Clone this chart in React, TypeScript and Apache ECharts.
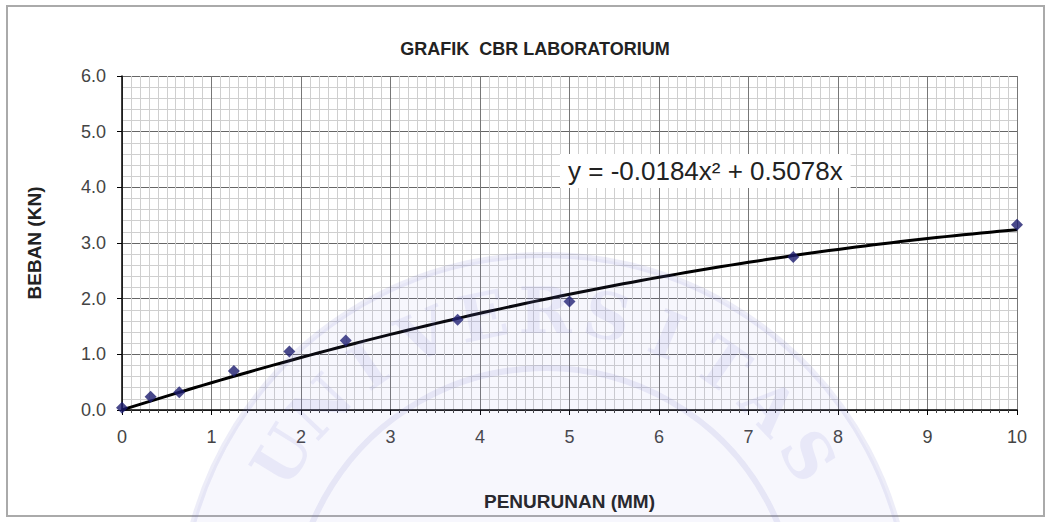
import React, { useEffect, useRef } from "react";
import * as echarts from "echarts";

const penetration = [0, 0.32, 0.64, 1.25, 1.87, 2.5, 3.75, 5, 7.5, 10];
const load = [0.04, 0.24, 0.32, 0.7, 1.05, 1.25, 1.62, 1.95, 2.75, 3.33];
const trendA = -0.0184;
const trendB = 0.5078;
const trendSteps = 100;
const yTicks = [0, 1, 2, 3, 4, 5, 6];
const watermarkLetters = ["U", "N", "I", "V", "E", "R", "S", "I", "T", "A", "S"];

const FONT = "'Liberation Sans', Arial, sans-serif";

export default function App() {
  const ref = useRef<HTMLDivElement>(null);
  useEffect(() => {
    if (!ref.current) return;
    const chart = echarts.init(ref.current, null, { renderer: "svg" });
    const trend: number[][] = [];
    for (let i = 0; i <= trendSteps; i++) {
      const x = (10 * i) / trendSteps;
      trend.push([x, trendA * x * x + trendB * x]);
    }
    const cx = 545, cy = 620, rr = 310;
    const letters = watermarkLetters.map((ch, i) => {
      const deg = -58 + i * 11.6;
      const rad = (deg * Math.PI) / 180;
      return {
        type: "text",
        x: cx + rr * Math.sin(rad),
        y: cy - rr * Math.cos(rad),
        rotation: -rad,
        silent: true,
        z: 100,
        style: {
          text: ch,
          fontSize: 64,
          fontFamily: "'DejaVu Serif', serif",
          fontWeight: "bold",
          fill: "rgba(120,120,205,0.11)",
          align: "center",
          verticalAlign: "middle",
        },
      };
    });
    chart.setOption({
      animation: false,
      backgroundColor: "#ffffff",
      title: {
        text: "GRAFIK  CBR LABORATORIUM",
        left: 530,
        textAlign: "center",
        top: 35,
        textStyle: { fontFamily: FONT, fontSize: 18, fontWeight: "bold", color: "#222" },
      },
      grid: { left: 122, right: 33, top: 76, bottom: 112, containLabel: false },
      xAxis: {
        type: "value",
        min: 0,
        max: 10,
        interval: 1,
        name: "PENURUNAN (MM)",
        nameLocation: "middle",
        nameGap: 82,
        nameTextStyle: { fontFamily: FONT, fontSize: 19, fontWeight: "bold", color: "#222" },
        axisLine: { show: true, onZero: false, lineStyle: { color: "#000", width: 1.5 } },
        axisTick: { show: true, length: 5, lineStyle: { color: "#000" } },
        minorTick: { show: true, splitNumber: 10, length: 3, lineStyle: { color: "#444" } },
        axisLabel: { margin: 18, fontFamily: FONT, fontSize: 18, color: "#444" },
        splitLine: { show: true, lineStyle: { color: "#777", width: 1 } },
        minorSplitLine: { show: true, lineStyle: { color: "#cfcfcf", width: 1 } },
      },
      yAxis: {
        type: "value",
        min: 0,
        max: 6,
        interval: 1,
        name: "BEBAN (KN)",
        nameLocation: "middle",
        nameGap: 78,
        nameRotate: 90,
        nameTextStyle: { fontFamily: FONT, fontSize: 19, fontWeight: "bold", color: "#222" },
        axisLine: { show: true, onZero: false, lineStyle: { color: "#000", width: 1.5 } },
        axisTick: { show: true, length: 5, lineStyle: { color: "#000" } },
        minorTick: { show: false, splitNumber: 5 },
        axisLabel: {
          margin: 16,
          fontFamily: FONT,
          fontSize: 18,
          color: "#444",
          formatter: (v: number) => (yTicks.includes(v) ? v.toFixed(1) : ""),
        },
        splitLine: { show: true, lineStyle: { color: "#666", width: 1.2 } },
        minorSplitLine: { show: true, lineStyle: { color: "#cfcfcf", width: 1 } },
      },
      graphic: [
        {
          type: "rect",
          shape: { x: 7, y: 6, width: 1037, height: 510 },
          silent: true,
          z: -10,
          style: { fill: "none", stroke: "#aaa", lineWidth: 2 },
        },
        {
          type: "circle",
          shape: { cx, cy, r: 365 },
          silent: true,
          z: 100,
          style: { fill: "rgba(140,140,220,0.07)", stroke: "rgba(110,110,200,0.12)", lineWidth: 6 },
        },
        {
          type: "circle",
          shape: { cx, cy, r: 252 },
          silent: true,
          z: 100,
          style: { fill: "none", stroke: "rgba(110,110,200,0.12)", lineWidth: 6 },
        },
        ...letters,
        {
          type: "text",
          x: 560,
          y: 171,
          z: 50,
          style: {
            text: "y = -0.0184x² + 0.5078x",
            fontFamily: FONT,
            fontSize: 26,
            fill: "#222",
            verticalAlign: "middle",
            backgroundColor: "#ffffff",
            padding: [4, 8, 4, 8],
          },
        },
      ],
      series: [
        {
          type: "line",
          data: trend,
          showSymbol: false,
          symbol: "none",
          smooth: false,
          lineStyle: { color: "#000", width: 3 },
          z: 3,
        },
        {
          type: "scatter",
          data: penetration.map((x, i) => [x, load[i]]),
          symbol: "diamond",
          symbolSize: 12,
          itemStyle: { color: "#1c1c6e" },
          z: 4,
        },
      ],
    });
    return () => chart.dispose();
  }, []);
  return (
    <div
      ref={ref}
      style={{ position: "fixed", left: 0, top: 0, width: 1050, height: 522 }}
    />
  );
}
